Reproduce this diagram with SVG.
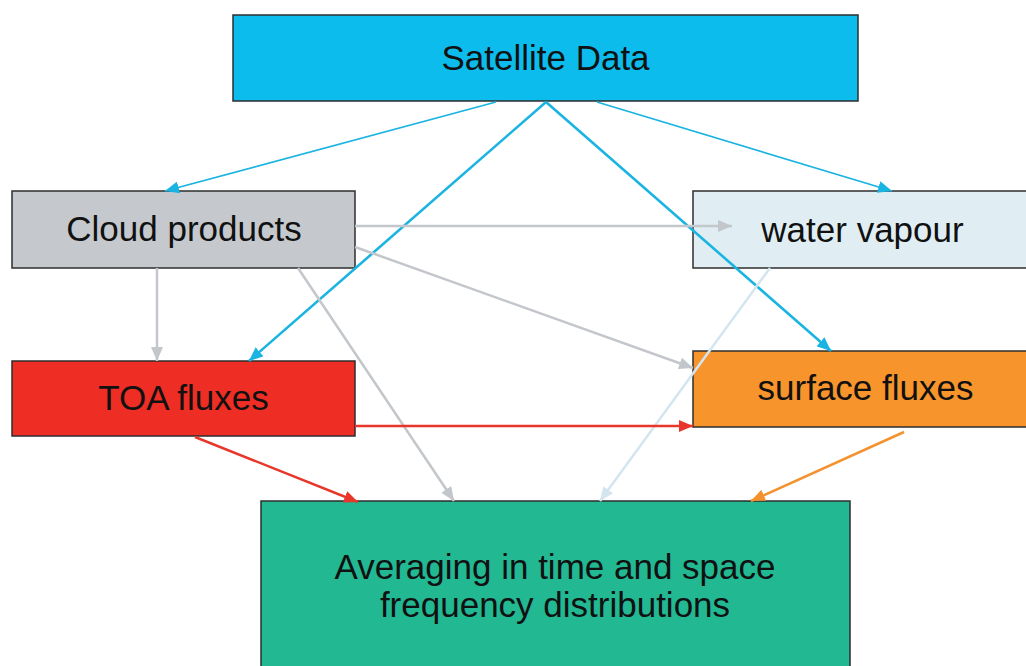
<svg xmlns="http://www.w3.org/2000/svg" width="1026" height="666" viewBox="0 0 1026 666">
  <style>
    .box { stroke: #2e2e2e; stroke-width: 1.5; }
    .lbl { font-family: "Liberation Sans", Arial, sans-serif; font-size: 35px; fill: #111; text-anchor: middle; }
    .c { fill: none; }
    .cyan { stroke: #1ab4e2; }
    .gray { stroke: #c3c7cb; stroke-width: 2.5; }
    .light { stroke: #d3e6ef; stroke-width: 2.5; }
    .red { stroke: #e8372a; stroke-width: 2.5; }
    .orange { stroke: #f3922e; stroke-width: 2.5; }
  </style>
  <defs>
    <marker id="aCyan" markerUnits="userSpaceOnUse" markerWidth="14" markerHeight="12" refX="14" refY="6" orient="auto"><path d="M0,0 L14,6 L0,12 z" fill="#1ab4e2"/></marker>
    <marker id="aGray" markerUnits="userSpaceOnUse" markerWidth="14" markerHeight="12" refX="14" refY="6" orient="auto"><path d="M0,0 L14,6 L0,12 z" fill="#c3c7cb"/></marker>
    <marker id="aLight" markerUnits="userSpaceOnUse" markerWidth="14" markerHeight="12" refX="14" refY="6" orient="auto"><path d="M0,0 L14,6 L0,12 z" fill="#d3e6ef"/></marker>
    <marker id="aRed" markerUnits="userSpaceOnUse" markerWidth="14" markerHeight="12" refX="14" refY="6" orient="auto"><path d="M0,0 L14,6 L0,12 z" fill="#e8372a"/></marker>
    <marker id="aOrange" markerUnits="userSpaceOnUse" markerWidth="14" markerHeight="12" refX="14" refY="6" orient="auto"><path d="M0,0 L14,6 L0,12 z" fill="#f3922e"/></marker>
  </defs>
  <rect width="1026" height="666" fill="#ffffff"/>

  <g id="satellite-data">
    <rect class="box" x="233" y="15" width="625" height="86" fill="#0cbcec"/>
    <text class="lbl" x="545.5" y="70">Satellite Data</text>
  </g>
  <g id="cloud-products">
    <rect class="box" x="12" y="191" width="343" height="77" fill="#c5c9ce"/>
    <text class="lbl" x="184" y="241">Cloud products</text>
  </g>
  <g id="water-vapour">
    <rect class="box" x="693" y="191" width="340" height="77" fill="#e0eef4"/>
    <text class="lbl" x="862.5" y="242">water vapour</text>
  </g>
  <g id="toa-fluxes">
    <rect class="box" x="12" y="361" width="343" height="75" fill="#ee2d24"/>
    <text class="lbl" x="183.5" y="410">TOA fluxes</text>
  </g>
  <g id="surface-fluxes">
    <rect class="box" x="693" y="351" width="345" height="76" fill="#f7942b"/>
    <text class="lbl" x="865.5" y="400">surface fluxes</text>
  </g>
  <g id="averaging">
    <rect class="box" x="261" y="501" width="589" height="180" fill="#22b892"/>
    <text class="lbl" x="555" y="579">Averaging in time and space</text>
    <text class="lbl" x="555" y="617">frequency distributions</text>
  </g>

  <g id="connectors" class="c">
    <line class="cyan" stroke-width="1.7" x1="496" y1="102" x2="165" y2="191" marker-end="url(#aCyan)"/>
    <line class="cyan" stroke-width="1.7" x1="597" y1="102" x2="892" y2="191" marker-end="url(#aCyan)"/>
    <line class="cyan" stroke-width="2.6" x1="546" y1="102" x2="249" y2="361" marker-end="url(#aCyan)"/>
    <line class="cyan" stroke-width="2.6" x1="546" y1="102" x2="831" y2="351" marker-end="url(#aCyan)"/>
    <line class="gray" x1="355" y1="226" x2="732" y2="226" marker-end="url(#aGray)"/>
    <line class="gray" x1="355" y1="247" x2="693" y2="368" marker-end="url(#aGray)"/>
    <line class="gray" x1="157" y1="268" x2="157" y2="361" marker-end="url(#aGray)"/>
    <line class="gray" x1="298" y1="268" x2="454" y2="501" marker-end="url(#aGray)"/>
    <line class="light" x1="770" y1="268" x2="600" y2="501" marker-end="url(#aLight)"/>
    <line class="red" x1="355" y1="426" x2="693" y2="426" marker-end="url(#aRed)"/>
    <line class="red" x1="195" y1="437" x2="358" y2="502" marker-end="url(#aRed)"/>
    <line class="orange" x1="904" y1="432" x2="751" y2="501" marker-end="url(#aOrange)"/>
  </g>
</svg>
